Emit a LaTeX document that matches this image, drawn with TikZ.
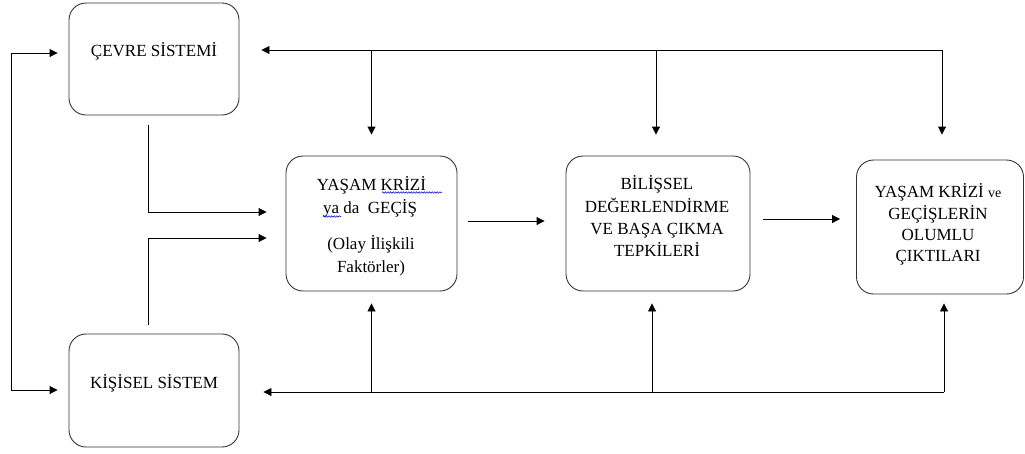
\documentclass[tikz,border=0pt]{standalone}
\usepackage{fontspec}
\setmainfont{Liberation Serif}
\usetikzlibrary{arrows.meta,calc,decorations.pathmorphing}
\begin{document}
\begin{tikzpicture}[x=1pt,y=-1pt,
  box/.style={draw=black!80,line width=0.9pt,rounded corners=17pt,inner sep=0pt},
  arr/.style={line width=0.9pt,-{Triangle[length=8pt,width=8pt]}},
  txt/.style={font=\fontsize{17}{22}\selectfont,anchor=base,inner sep=0pt},
  wavy/.style={draw=blue!80!black,line width=0.5pt,decorate,decoration={snake,amplitude=0.8pt,segment length=2.6pt}}]
\useasboundingbox (0,0) rectangle (1025,453);
% boxes
\node[box,minimum width=170pt,minimum height=112pt] (cevre) at (154,59) {};
\node[box,minimum width=170pt,minimum height=113pt] (kisisel) at (154,390.5) {};
\node[box,minimum width=171pt,minimum height=135pt] (yasam) at (371.5,223.5) {};
\node[box,minimum width=184pt,minimum height=135pt] (bilis) at (658,223.5) {};
\node[box,minimum width=167pt,minimum height=134pt] (cikti) at (940,227) {};
% texts
\node[txt] (tc) at (154,56) {ÇEVRE SİSTEMİ};
\node[txt] (tk) at (154,388) {KİŞİSEL SİSTEM};
\node[txt] (ty1) at (371.5,190) {YAŞAM KRİZİ};
\node[txt] (ty2) at (370,213) {ya da\ \ GEÇİŞ};
\node[txt] (ty3) at (371,249) {(Olay İlişkili};
\node[txt] (ty4) at (371,272) {Faktörler)};
\node[txt] (tb1) at (657,189) {BİLİŞSEL};
\node[txt] (tb2) at (657,212) {DEĞERLENDİRME};
\node[txt] (tb3) at (657,234) {VE BAŞA ÇIKMA};
\node[txt] (tb4) at (657,256) {TEPKİLERİ};
\node[txt] (to1) at (938,197) {YAŞAM KRİZİ {\fontsize{14}{22}\selectfont ve}};
\node[txt] (to2) at (938,219) {GEÇİŞLERİN};
\node[txt] (to3) at (938,240) {OLUMLU};
\node[txt] (to4) at (938,261) {ÇIKTILARI};
% spell-check underlines
\draw[wavy] (382,192.5) -- (442,192.5);
\draw[wavy] (323,216.5) -- (341,216.5);
% bus coordinates
\coordinate (tr) at (942,50);
\coordinate (br) at (944,392);
\coordinate (cl) at (11,53);
\coordinate (kl) at (11,390);
% top bus
\draw[arr,shorten >=22pt] (tr) -- (cevre.east |- tr);
\draw[arr,shorten >=21pt] (yasam.north |- tr) -- (yasam.north);
\draw[arr,shorten >=21pt] (bilis.north -| 656,0) ++(0,-106) -- (bilis.north -| 656,0);
\draw[arr,shorten >=25pt] (tr) -- (cikti.north -| tr);
% bottom bus
\draw[arr,shorten >=24pt] (br) -- (kisisel.east |- br);
\draw[arr,shorten >=12pt] (yasam.south |- br) -- (yasam.south);
\draw[arr,shorten >=12pt] (bilis.south -| 652,0) ++(0,101) -- (bilis.south -| 652,0);
\draw[arr,shorten >=9pt] (br) -- (cikti.south -| br);
% left loop
\draw[line width=0.9pt,{Triangle[length=8pt,width=8pt]}-{Triangle[length=8pt,width=8pt]},shorten <=11pt,shorten >=11pt]
  (cevre.west |- cl) -- (cl) -- (kl) -- (kisisel.west |- kl);
% side feeders
\coordinate (c1) at ($(cevre.south)+(-6,10)$);
\coordinate (k1) at ($(kisisel.north)+(-6,-9)$);
\draw[arr,shorten >=19pt] (c1) |- (yasam.west |- 0,212);
\draw[arr,shorten >=19pt] (k1) |- (yasam.west |- 0,238);
% main flow
\draw[arr,shorten <=11pt,shorten >=21pt] (yasam.east |- 0,221) -- (bilis.west |- 0,221);
\draw[arr,shorten <=13pt,shorten >=16pt] (bilis.east |- 0,219) -- (cikti.west |- 0,219);
\end{tikzpicture}
\end{document}
